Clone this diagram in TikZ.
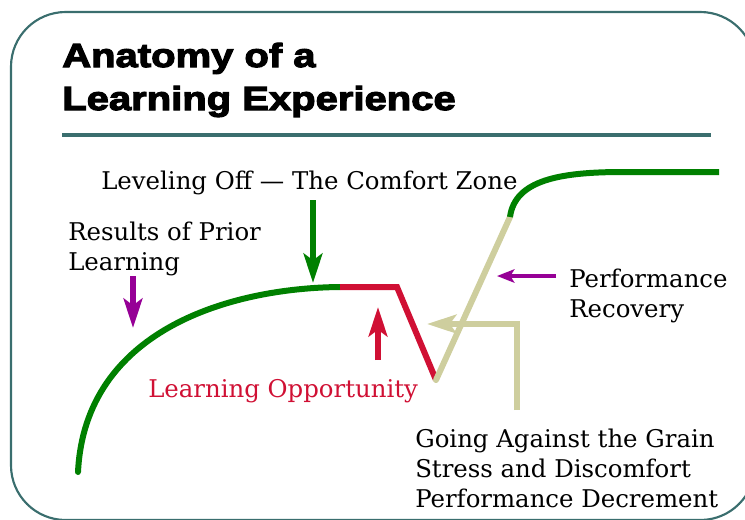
\documentclass[tikz,border=0pt]{standalone}
\usepackage{fontspec}
\setmainfont{DejaVu Serif}
\newfontfamily\headfont[FakeStretch=1.2,FakeBold=3.5]{Liberation Sans}
\usepackage{xcolor}
\usetikzlibrary{arrows.meta}

\definecolor{framecolor}{RGB}{58,110,110}
\definecolor{growthgreen}{RGB}{0,128,0}
\definecolor{dipred}{RGB}{208,16,52}
\definecolor{graintan}{RGB}{206,206,158}
\definecolor{notepurple}{RGB}{150,0,150}

\begin{document}
\begin{tikzpicture}[
  x=0.75pt, y=-0.75pt,
  heading/.style={font=\headfont\bfseries\fontsize{25}{32.25}\selectfont,
    align=left, anchor=base west, inner sep=0pt},
  note/.style={font=\fontsize{18.3}{22.5}\selectfont, align=left,
    anchor=base west, inner sep=0pt},
  trace/.style={line width=4.5pt},
  pointer/.style={-{Stealth[length=22pt, width=14pt, inset=5pt]}, line width=4.5pt},
  hint/.style={-{Stealth[length=13pt, width=10pt, inset=3pt]}, line width=2.6pt}
]
\path[use as bounding box, clip] (0,0) rectangle (745,519);
\draw[framecolor, line width=1.6pt, rounded corners=41pt] (11,12) rectangle (755,520);

\node[heading] (title) at (62,110) {Anatomy of a\\Learning Experience};
\draw[framecolor, line width=2.3pt] (62,135) -- (711,135);

\node[note] (leveling) at (101,189) {Leveling Off --- The Comfort Zone};
\node[note] (prior) at (68,270) {Results of Prior\\Learning};
\node[note] (recovery) at (569,317) {Performance\\Recovery};
\node[note, text=dipred] (opportunity) at (148,397) {Learning Opportunity};
\node[note] (grain) at (415,507) {Going Against the Grain\\Stress and Discomfort\\Performance Decrement};

\coordinate (start) at (78,472);
\coordinate (plateau) at (340,287);
\coordinate (edge) at (397,287);
\coordinate (dip) at (436,380);
\coordinate (rise) at (510,217);
\coordinate (top) at (623,172);
\coordinate (finish) at (719,172);

\draw[trace, growthgreen, line cap=round] (start) .. controls (85,330) and (230,288) .. (plateau);
\draw[trace, dipred] (plateau) -- (edge) -- (dip);
\draw[trace, graintan, line cap=round] (dip) -- (rise);
\draw[trace, growthgreen] (rise) .. controls (515,180) and (560,172) .. (top) -- (finish);

\coordinate (levelingtail) at (313,200);
\coordinate (levelingtip) at (313,283);
\coordinate (priortail) at (133,276);
\coordinate (priortip) at (133,328);
\coordinate (chancetail) at (378,360);
\coordinate (chancetip) at (378,307);
\coordinate (recoverytail) at (556,276);
\coordinate (recoverytip) at (497,276);
\coordinate (graintail) at (517,410);
\coordinate (grainbend) at (517,324);
\coordinate (graintip) at (427,324);

\draw[pointer, growthgreen] (levelingtail) -- (levelingtip);
\draw[pointer, notepurple] (priortail) -- (priortip);
\draw[pointer, dipred] (chancetail) -- (chancetip);
\draw[hint, notepurple] (recoverytail) -- (recoverytip);
\draw[pointer, graintan] (graintail) -- (grainbend) -- (graintip);
\end{tikzpicture}
\end{document}
